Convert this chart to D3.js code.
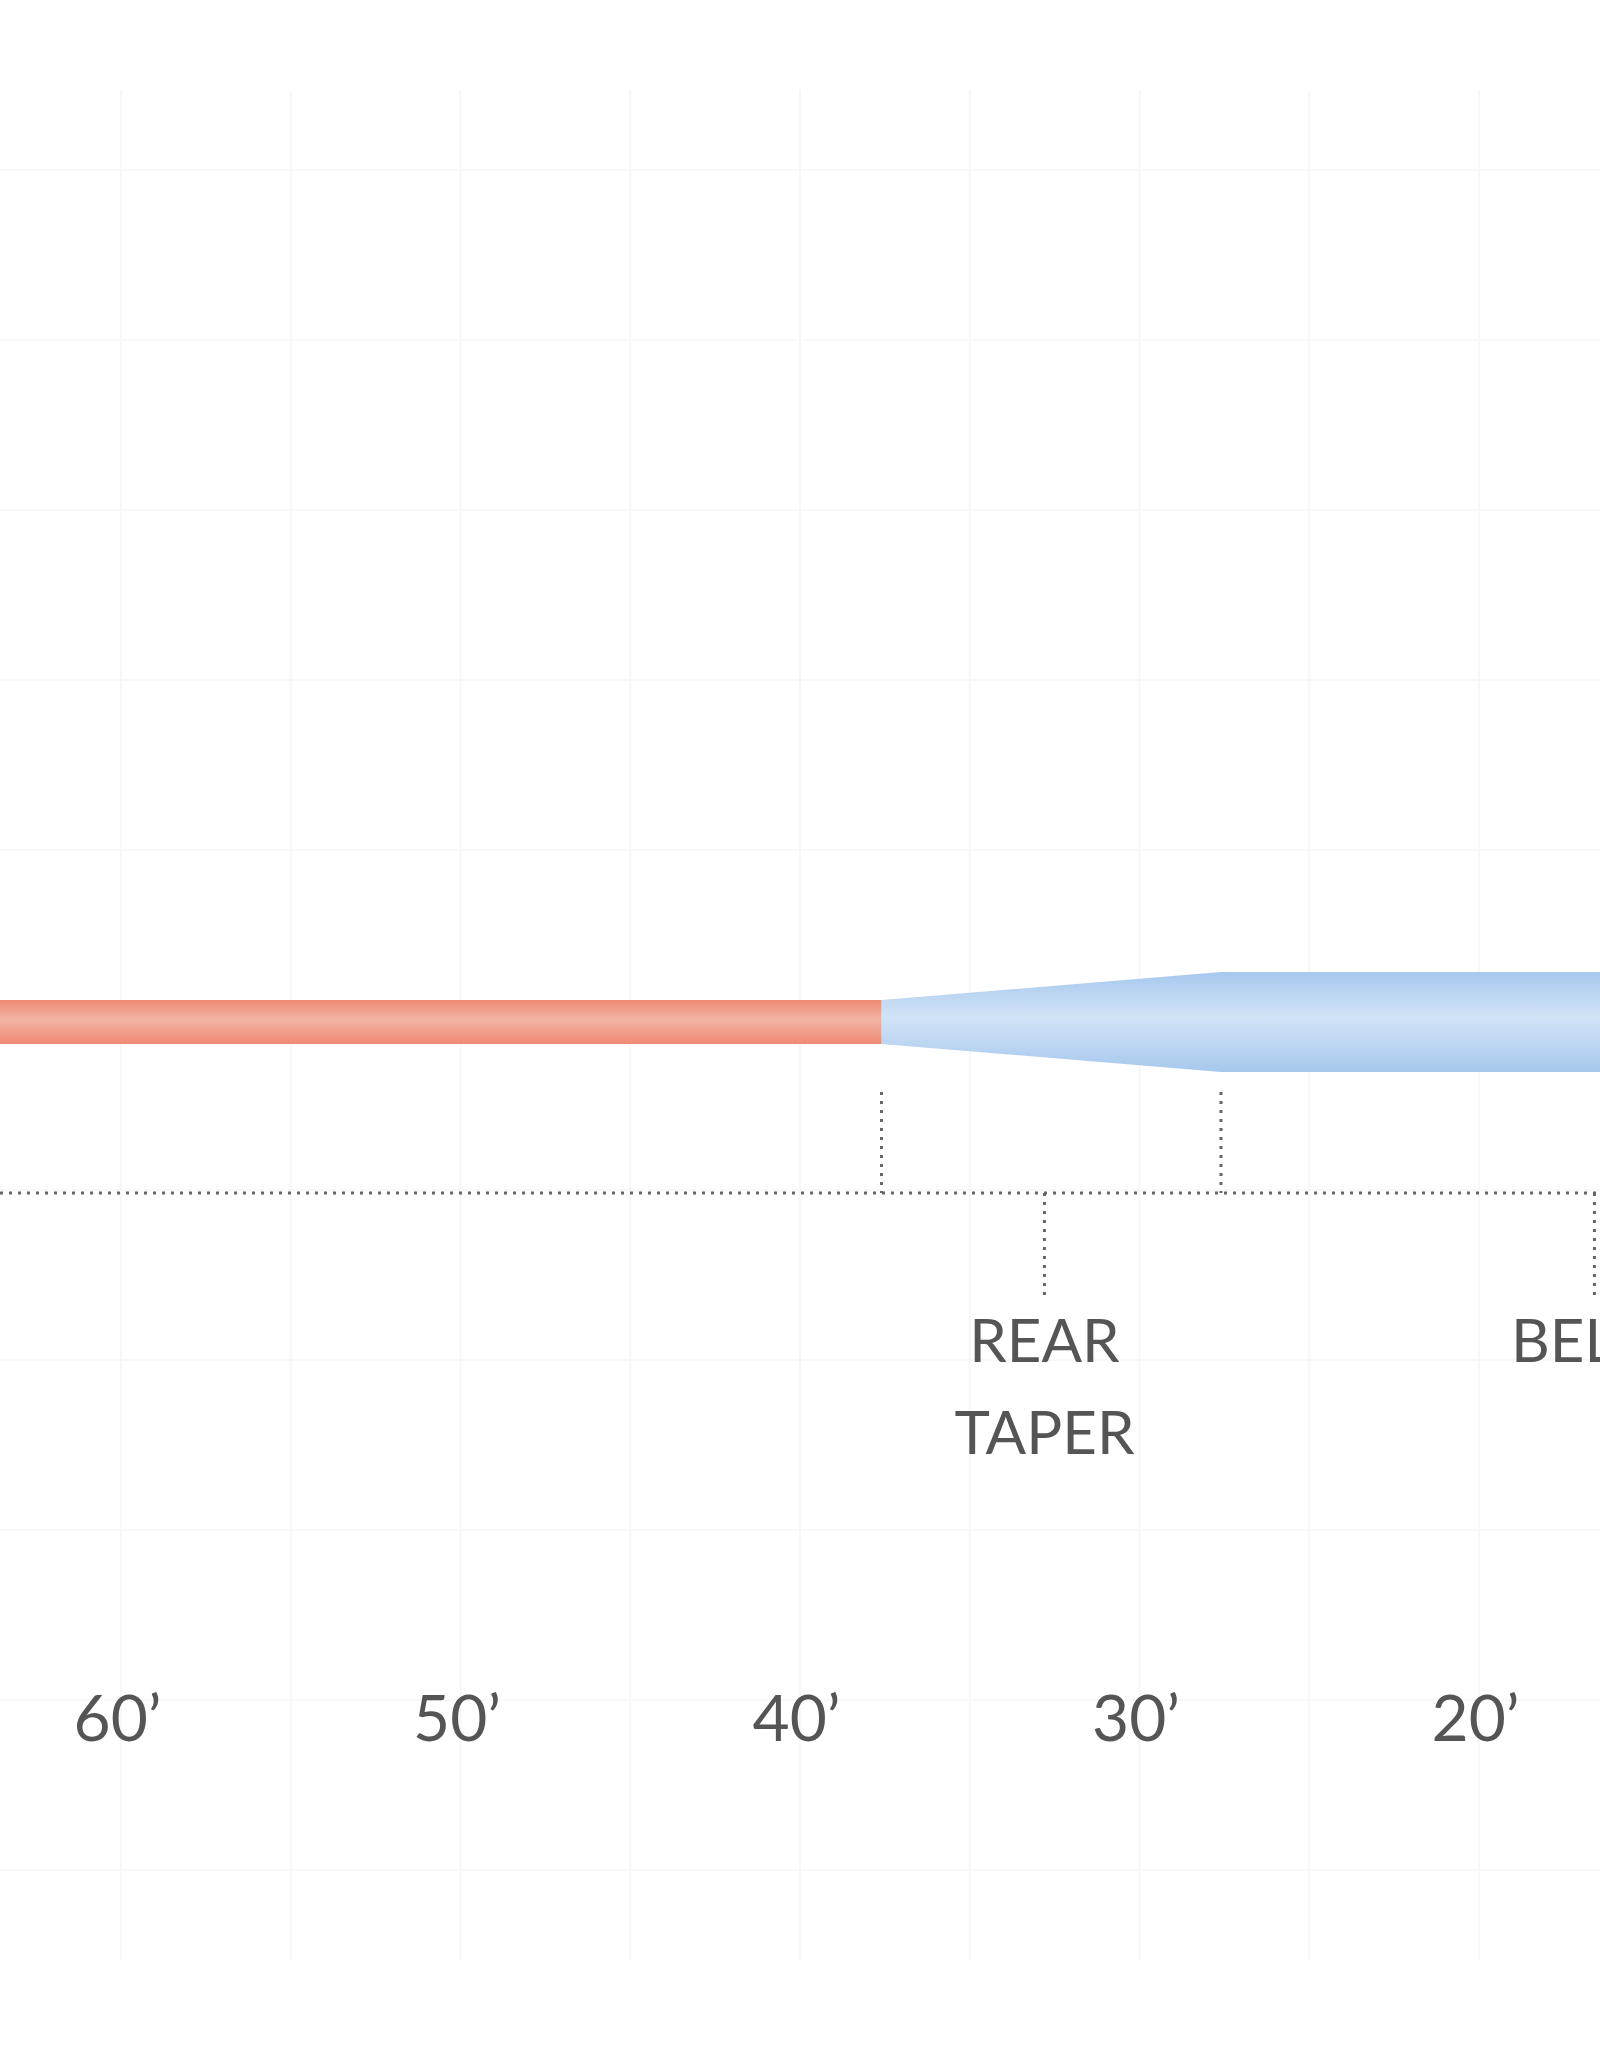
<!DOCTYPE html>
<html>
<head>
<meta charset="utf-8">
<script src="https://cdn.jsdelivr.net/npm/d3@7"></script>
<style>
  body { margin: 0; background: #fff; }
  text { font-family: Lato, 'Open Sans', sans-serif; fill: #555; }
</style>
</head>
<body>
<div id="chart"></div>
<script>
// line profile: distance from tip (ft) and diameter (px units of the drawing)
const runningLine = [[70, 44], [37.6, 44]];
const headProfile = [[37.6, 44], [27.6, 100], [10, 100]];
const distanceTicks = [60, 50, 40, 30, 20];
const gridFeet = [60, 55, 50, 45, 40, 35, 30, 25, 20, 15, 10];
const gridRows = [170, 340, 510, 680, 850, 1020, 1190, 1360, 1530, 1700, 1870];
const markerFeet = [37.6, 27.6, 16.6];
const sections = [{ name: ['REAR', 'TAPER'], ft: 32.8 }, { name: ['BELLY'], ft: 16.6 }];

const width = 1600, height = 2048;
const centerY = 1022, guideY = 1193;

const svg = d3.select('#chart').append('svg')
  .attr('width', width)
  .attr('height', height);

const x = d3.scaleLinear().domain([60, 10]).range([121, 121 + 50 * 33.95]);
const y = d3.scaleLinear().domain([0, 1870]).range([0, 1870]);

const defs = svg.append('defs');
const grad = (id, edge, mid) => {
  const g = defs.append('linearGradient').attr('id', id)
    .attr('x1', 0).attr('y1', 0).attr('x2', 0).attr('y2', 1);
  g.append('stop').attr('offset', '0%').attr('stop-color', edge);
  g.append('stop').attr('offset', '45%').attr('stop-color', mid);
  g.append('stop').attr('offset', '100%').attr('stop-color', edge);
};
grad('redGrad', '#ef8a74', '#f3b3a3');
grad('blueGrad', '#a6c8ed', '#d2e3f6');

// faint grid
svg.append('g').selectAll('line').data(gridFeet).enter().append('line')
  .attr('x1', d => x(d)).attr('x2', d => x(d))
  .attr('y1', 90).attr('y2', 1960)
  .attr('stroke', '#f7f7f7').attr('stroke-width', 2);
svg.append('g').selectAll('line').data(gridRows).enter().append('line')
  .attr('x1', 0).attr('x2', width)
  .attr('y1', d => y(d)).attr('y2', d => y(d))
  .attr('stroke', '#f8f8f8').attr('stroke-width', 2);

const area = d3.area()
  .x(d => x(d[0]))
  .y0(d => centerY - d[1] / 2)
  .y1(d => centerY + d[1] / 2);

svg.append('path').datum(headProfile).attr('d', area).attr('fill', 'url(#blueGrad)');
svg.append('path').datum(runningLine).attr('d', area).attr('fill', 'url(#redGrad)');

// guide line and markers
const dot = g => g.attr('stroke', '#666').attr('stroke-width', 3).attr('stroke-dasharray', '3,6');
svg.append('line').attr('x1', 0).attr('x2', width)
  .attr('y1', guideY).attr('y2', guideY).call(dot);
svg.append('g').selectAll('line').data(markerFeet.slice(0, 2)).enter().append('line')
  .attr('x1', d => x(d)).attr('x2', d => x(d))
  .attr('y1', 1092).attr('y2', guideY).call(dot);
svg.append('g').selectAll('line').data(sections).enter().append('line')
  .attr('x1', d => x(d.ft)).attr('x2', d => x(d.ft))
  .attr('y1', guideY).attr('y2', 1298).call(dot);

const lab = svg.append('g').selectAll('text').data(sections).enter().append('text')
  .attr('text-anchor', 'middle')
  .attr('font-size', 60);
lab.selectAll('tspan').data(d => d.name.map(n => [n, d.ft])).enter().append('tspan')
  .attr('x', d => x(d[1]))
  .attr('y', (d, i) => 1362 + i * 92)
  .text(d => d[0]);

// distance axis
const axis = d3.axisBottom(x).tickValues(distanceTicks).tickSize(0).tickFormat(d => d + '’');
const ag = svg.append('g').attr('transform', 'translate(-4,1680)').call(axis);
ag.select('.domain').remove();
ag.selectAll('text').attr('font-size', 64).attr('dy', '0.9em').style('fill', '#555');
</script>
</body>
</html>
